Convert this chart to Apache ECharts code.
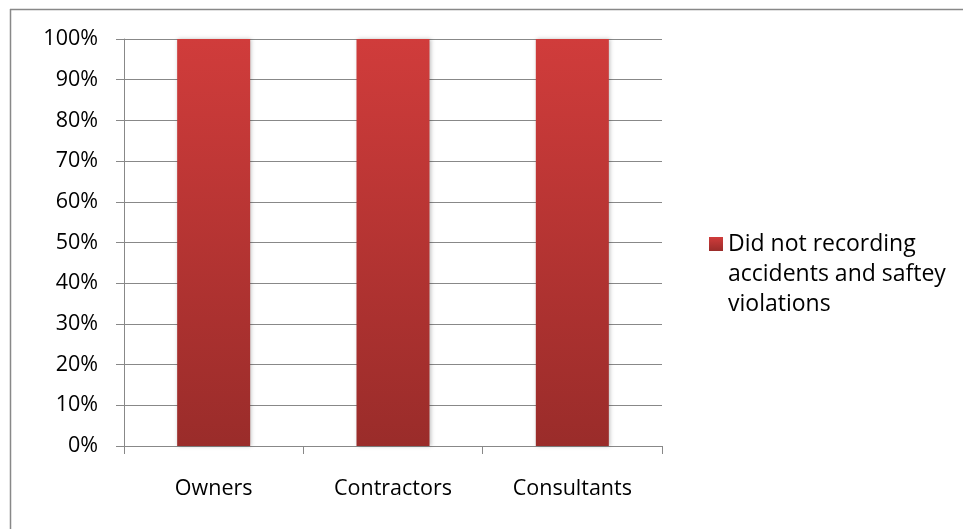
<!DOCTYPE html>
<html>
<head>
<meta charset="utf-8">
<script src="https://cdn.jsdelivr.net/npm/echarts@6/dist/echarts.min.js"></script>
<style>
html,body{margin:0;padding:0;background:#fff;}
#c{width:963px;height:529px;}
</style>
</head>
<body>
<div id="c"></div>
<script>
const categories = ['Owners', 'Contractors', 'Consultants'];
const seriesName = 'Did not recording\naccidents and saftey\nviolations';
const values = [100, 100, 100];
const yTicks = [0, 10, 20, 30, 40, 50, 60, 70, 80, 90, 100];

const chart = echarts.init(document.getElementById('c'), null, {renderer: 'canvas'});
const barColor = new echarts.graphic.LinearGradient(0, 0, 0, 1, [
  {offset: 0, color: '#D03C3B'},
  {offset: 1, color: '#9A2C2A'}
]);
const FONT = 'Open Sans, Liberation Sans, sans-serif';
chart.setOption({
  animation: false,
  backgroundColor: '#fff',
  textStyle: {fontFamily: FONT},
  grid: {left: 124, right: 301, top: 39, bottom: 83, containLabel: false},
  xAxis: {
    type: 'category',
    data: categories,
    axisLine: {lineStyle: {color: '#888', width: 1}},
    axisTick: {show: true, length: 8, lineStyle: {color: '#888'}},
    axisLabel: {color: '#000', fontSize: 21.5, margin: 32, fontFamily: FONT}
  },
  yAxis: {
    type: 'value',
    min: 0, max: 100, interval: 10,
    axisLine: {show: true, lineStyle: {color: '#888', width: 1}},
    axisTick: {show: true, length: 8, lineStyle: {color: '#888'}},
    splitLine: {show: true, lineStyle: {color: '#888', width: 1}},
    axisLabel: {color: '#000', fontSize: 21.5, margin: 26, fontFamily: FONT,
      formatter: v => yTicks.includes(v) ? v + '%' : ''}
  },
  legend: {
    show: true,
    orient: 'vertical',
    left: 704,
    top: 164,
    itemWidth: 14,
    itemHeight: 14,
    itemGap: 8,
    data: [{name: seriesName, icon: 'rect'}],
    formatter: name => '\n\n' + name,
    textStyle: {color: '#000', fontSize: 23, lineHeight: 30, fontFamily: FONT}
  },
  series: [{
    name: seriesName,
    type: 'bar',
    data: values,
    barWidth: 73,
    itemStyle: {color: barColor, shadowColor: 'rgba(0,0,0,0.25)', shadowBlur: 4, shadowOffsetX: 1, shadowOffsetY: 0}
  }],
  graphic: [
    {type: 'line', shape: {x1: 10, y1: 9.5, x2: 963, y2: 9.5}, style: {stroke: '#888', lineWidth: 1.5}, silent: true},
    {type: 'line', shape: {x1: 10.5, y1: 9, x2: 10.5, y2: 529}, style: {stroke: '#888', lineWidth: 1.5}, silent: true}
  ]
});
</script>
</body>
</html>
